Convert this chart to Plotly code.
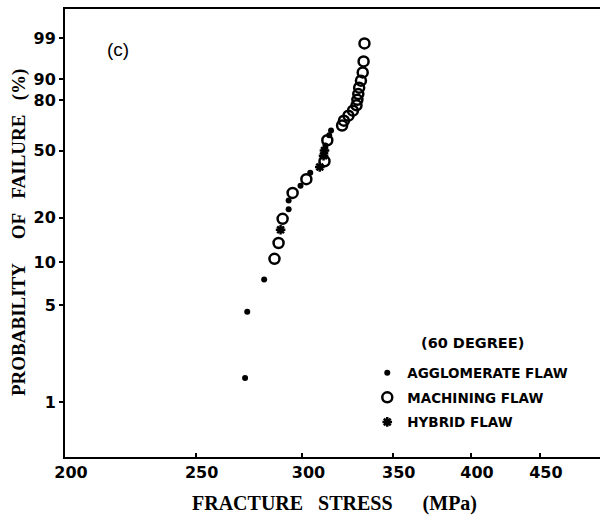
import numpy as np
import plotly.graph_objects as go

# ---- data ----
agg_stress = [272, 273, 281, 293, 293, 299, 304, 312, 314, 315]
agg_prob = [1.5, 4.5, 7.6, 22.7, 25.8, 31.8, 37.9, 53.0, 59.1, 62.1]

mach_stress = [286, 288, 290, 295, 302, 311.5, 313, 321, 322, 324.5, 327, 329,
               329.5, 330, 330.5, 331.5, 332.5, 333, 333.5]
mach_prob = [10.6, 13.6, 19.7, 28.8, 34.8, 43.9, 56.1, 65.2, 68.2, 71.2, 74.2,
             77.3, 80.3, 83.3, 86.4, 89.4, 92.4, 95.5, 98.5]

hyb_stress = [289, 309, 311, 311.5]
hyb_prob = [16.7, 40.9, 47.0, 50.0]

x_ticks = [200, 250, 300, 350, 400, 450]
y_ticks = [1, 5, 10, 20, 50, 80, 90, 99]


def weibull(p_percent):
    p = np.asarray(p_percent, dtype=float) / 100.0
    return np.log(-np.log(1.0 - p))


fig = go.Figure()
fig.add_trace(go.Scatter(
    x=agg_stress, y=weibull(agg_prob), mode="markers", name="AGGLOMERATE FLAW",
    legendgroup="a",
    marker=dict(symbol="circle", size=6, color="black")))
fig.add_trace(go.Scatter(
    x=mach_stress, y=weibull(mach_prob), mode="markers", name="MACHINING FLAW",
    legendgroup="b",
    marker=dict(symbol="circle-open", size=10, color="black",
                line=dict(width=2.5, color="black"))))
fig.add_trace(go.Scatter(
    x=hyb_stress, y=weibull(hyb_prob), mode="markers", name="HYBRID FLAW",
    legendgroup="c",
    marker=dict(symbol="asterisk-open", size=8, color="black",
                line=dict(width=2.5, color="black"))))

tick_font = dict(family="DejaVu Sans", size=16, color="black", weight="bold")

fig.update_layout(
    width=600, height=516,
    margin=dict(l=65, r=0, t=9, b=59),
    paper_bgcolor="white", plot_bgcolor="white",
    showlegend=True,
    legend=dict(x=0.565, y=0.222, xanchor="left", yanchor="top",
                bgcolor="rgba(0,0,0,0)", tracegroupgap=4,
                traceorder="grouped",
                font=dict(family="DejaVu Sans", size=13.5, color="black",
                          weight="bold")),
    xaxis=dict(
        type="log", range=[np.log10(200), np.log10(498.6)],
        tickvals=x_ticks, ticktext=[str(v) for v in x_ticks],
        ticks="inside", ticklen=4, tickwidth=1.5, tickcolor="black",
        ticklabelshift=6,
        showline=True, linecolor="black", linewidth=2, mirror=True,
        showgrid=False, zeroline=False, tickfont=tick_font),
    yaxis=dict(
        range=[-5.523, 2.014],
        tickvals=list(weibull(y_ticks)), ticktext=[str(v) for v in y_ticks],
        ticks="outside", ticklen=4, tickwidth=1.5, tickcolor="black",
        showline=True, linecolor="black", linewidth=2, mirror=False,
        showgrid=False, zeroline=False, tickfont=tick_font),
)

nb = "\u00a0"
serif = dict(family="Liberation Serif", size=19, color="black", weight="bold")
fig.add_annotation(
    xref="paper", yref="paper", x=-0.0859, y=0.5, showarrow=False,
    textangle=-90, xanchor="center", yanchor="middle",
    text="PROBABILITY" + nb * 5 + "OF" + nb * 3 + "FAILURE" + nb * 3 + "(%)",
    font=serif)
fig.add_annotation(
    xref="paper", yref="paper", x=0.5033, y=-0.1027, showarrow=False,
    xanchor="center", yanchor="middle",
    text="FRACTURE" + nb * 3 + "STRESS" + nb * 6 + "(MPa)",
    font=dict(family="Liberation Serif", size=20, color="black", weight="bold"))
fig.add_annotation(
    xref="paper", yref="paper", x=0.0999, y=0.9085, showarrow=False,
    xanchor="center", yanchor="middle", text="(c)",
    font=dict(family="Liberation Sans", size=19, color="black"))
fig.add_annotation(
    xref="paper", yref="paper", x=0.761, y=0.2545, showarrow=False,
    xanchor="center", yanchor="middle", text="(60 DEGREE)",
    font=dict(family="DejaVu Sans", size=14.5, color="black", weight="bold"))

fig.write_html("out.html")
